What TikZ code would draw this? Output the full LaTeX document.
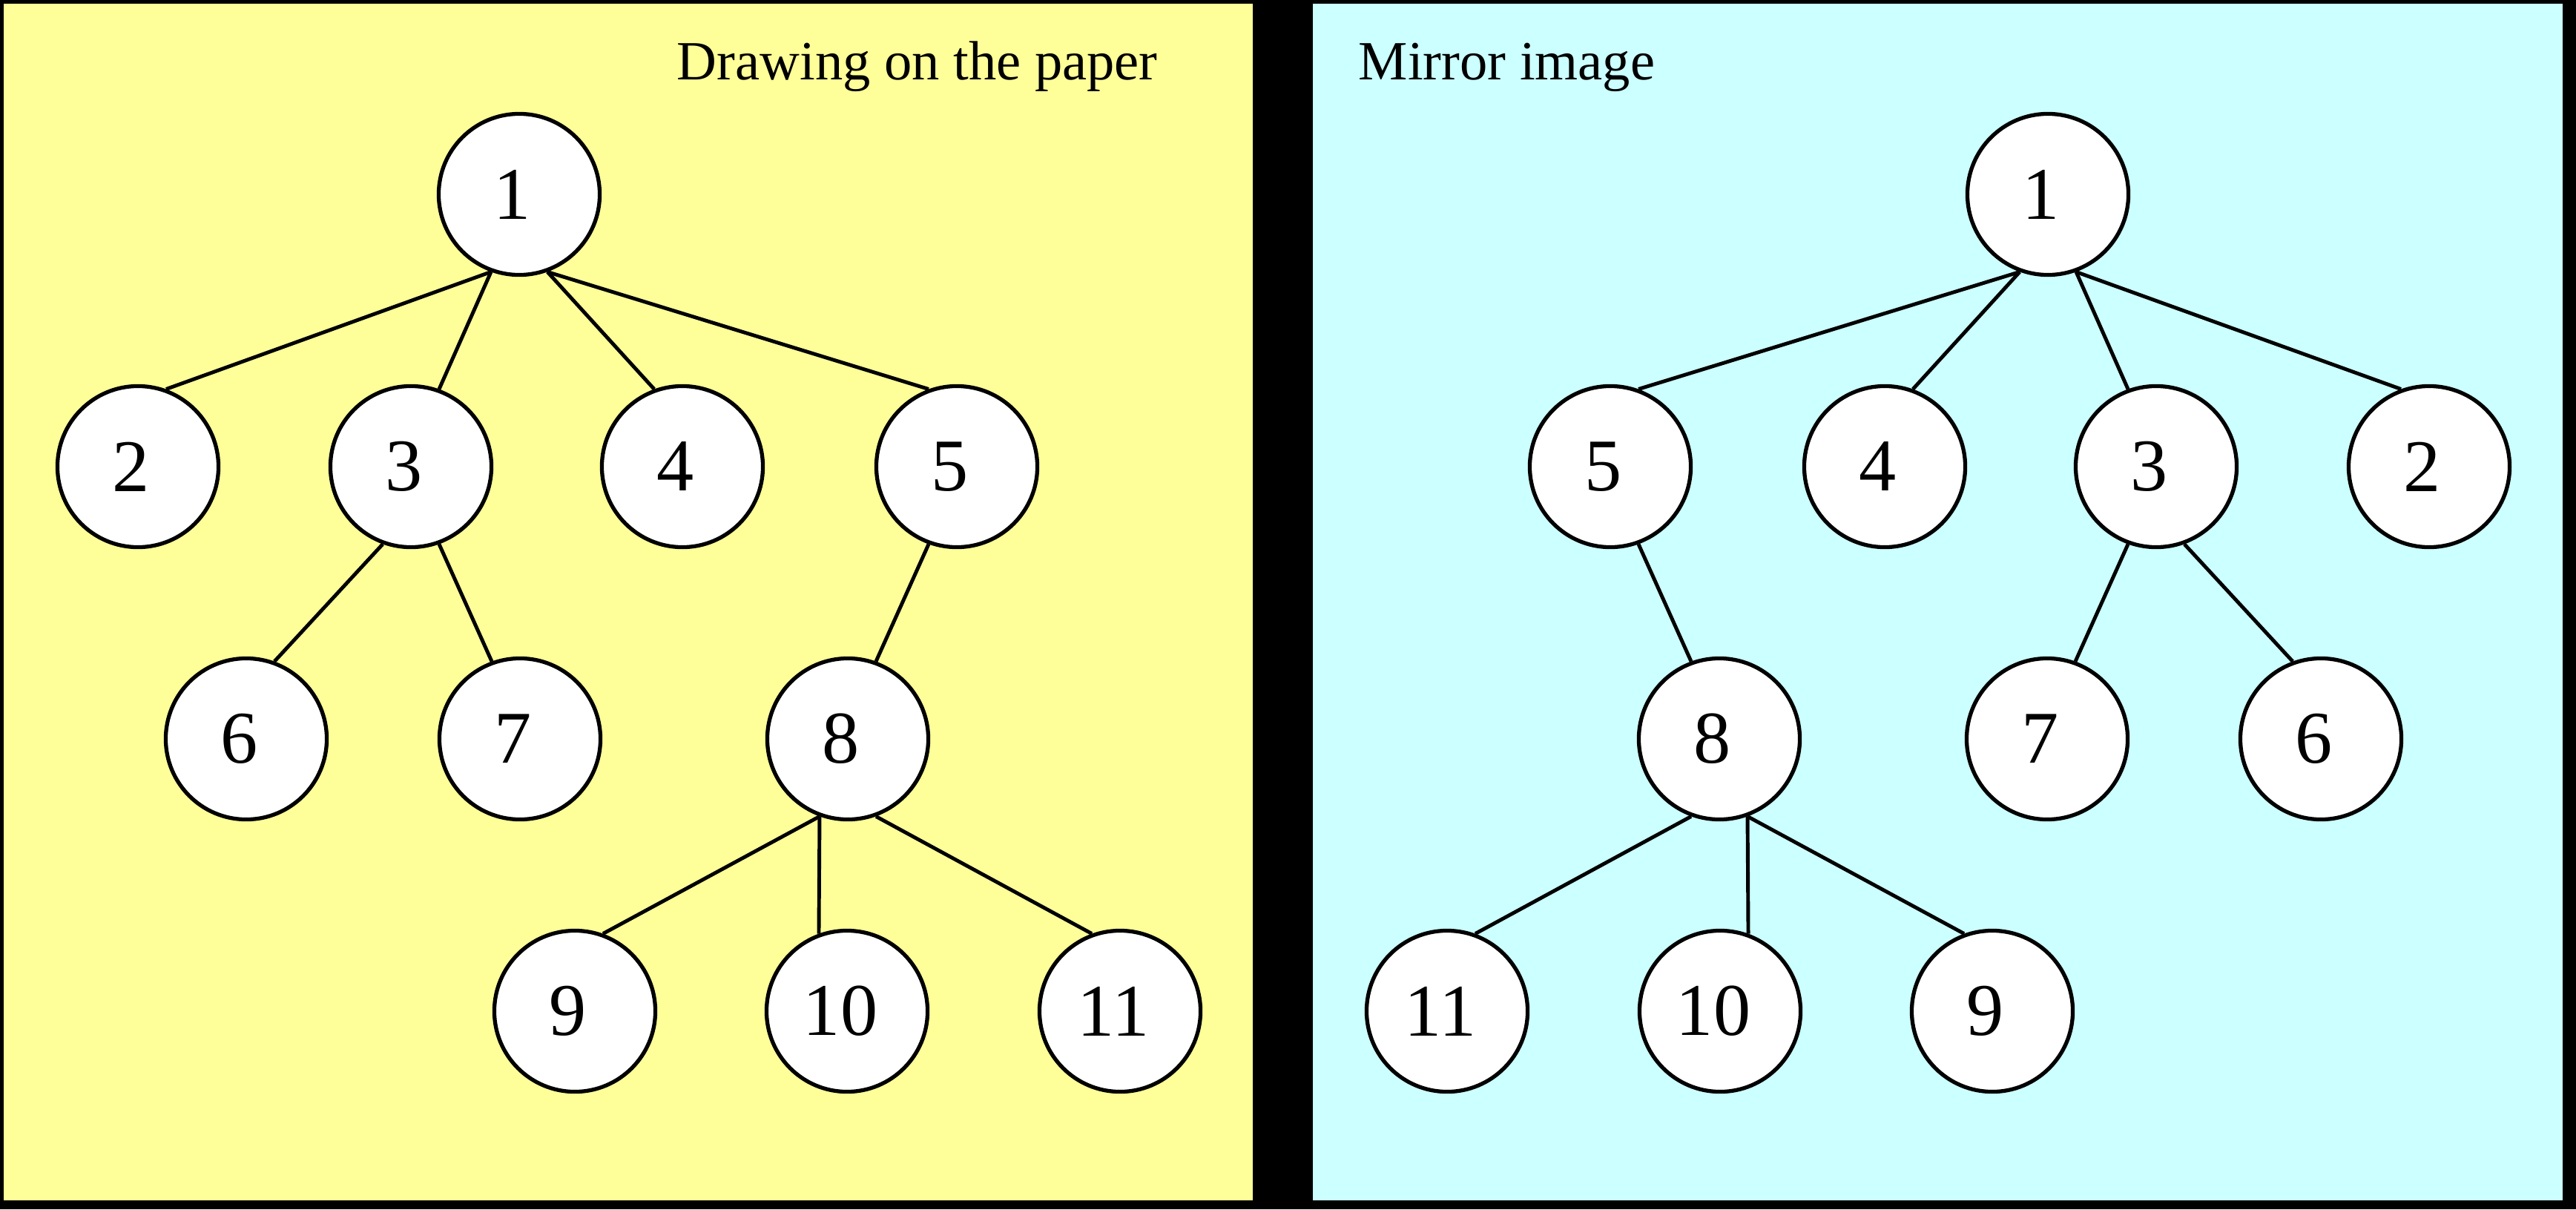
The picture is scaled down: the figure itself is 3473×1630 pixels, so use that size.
\documentclass[tikz,border=0pt]{standalone}
\usepackage{fontspec}
\setmainfont{Liberation Serif}
\definecolor{yellowbg}{HTML}{FFFF99}
\definecolor{cyanbg}{HTML}{CCFFFF}
\begin{document}
\begin{tikzpicture}[x=0.01cm,y=-0.01cm,
  tn/.style={circle,draw=black,fill=white,line width=1.5pt,minimum size=2.17cm,inner sep=0pt,
    font=\fontsize{28.5}{30}\selectfont,execute at begin node={\hspace*{-0.18cm}}},
  ed/.style={line width=1.4pt,draw=black},
  ttl/.style={anchor=base west,inner sep=0pt,font=\fontsize{21.2}{24}\selectfont}]
\useasboundingbox (0,0) rectangle (3473,1630);
\fill[black] (0,0) rectangle (3473,1630);
\fill[yellowbg] (5,5) rectangle (1689,1618);
\fill[cyanbg] (1770,5) rectangle (3455,1618);
% titles
\node[ttl] (t1) at (912,107) {Drawing on the paper};
\node[ttl] (t2) at (1831,107) {Mirror image};
% left tree
\node[tn] (L1) at (700,262) {1};
\node[tn] (L2) at (186,629) {2};
\node[tn] (L3) at (554,629) {3};
\node[tn] (L4) at (920,629) {4};
\node[tn] (L5) at (1290,629) {5};
\node[tn] (L6) at (332,996) {6};
\node[tn] (L7) at (701,996) {7};
\node[tn] (L8) at (1143,996) {8};
\node[tn] (L9) at (775,1363) {9};
\node[tn] (L10) at (1142,1363) {10};
\node[tn] (L11) at (1510,1363) {11};
\draw[ed] (L1.-110) -- (L2.70);
\draw[ed] (L1.-110) -- (L3.70);
\draw[ed] (L1.-70) -- (L4.110);
\draw[ed] (L1.-70) -- (L5.110);
\draw[ed] (L3.-110) -- (L6.70);
\draw[ed] (L3.-70) -- (L7.110);
\draw[ed] (L5.-110) -- (L8.70);
\draw[ed] (L8.-110) -- (L9.70);
\draw[ed] (L8.-110) -- (L10.110);
\draw[ed] (L8.-70) -- (L11.110);
% right tree (mirror)
\node[tn] (R1) at (2761,262) {1};
\node[tn] (R2) at (3275,629) {2};
\node[tn] (R3) at (2907,629) {3};
\node[tn] (R4) at (2541,629) {4};
\node[tn] (R5) at (2171,629) {5};
\node[tn] (R6) at (3129,996) {6};
\node[tn] (R7) at (2760,996) {7};
\node[tn] (R8) at (2318,996) {8};
\node[tn] (R9) at (2686,1363) {9};
\node[tn] (R10) at (2319,1363) {10};
\node[tn] (R11) at (1951,1363) {11};
\draw[ed] (R1.-70) -- (R2.110);
\draw[ed] (R1.-70) -- (R3.110);
\draw[ed] (R1.-110) -- (R4.70);
\draw[ed] (R1.-110) -- (R5.70);
\draw[ed] (R3.-70) -- (R6.110);
\draw[ed] (R3.-110) -- (R7.70);
\draw[ed] (R5.-70) -- (R8.110);
\draw[ed] (R8.-70) -- (R9.110);
\draw[ed] (R8.-70) -- (R10.70);
\draw[ed] (R8.-110) -- (R11.70);
\end{tikzpicture}
\end{document}
